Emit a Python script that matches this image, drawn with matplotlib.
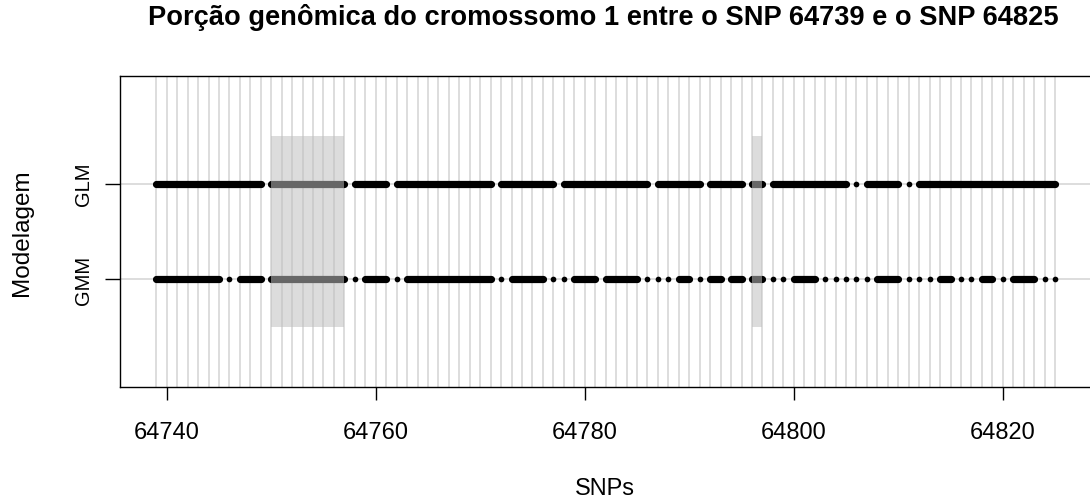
import matplotlib
matplotlib.use("Agg")
import matplotlib.pyplot as plt
from matplotlib.patches import Rectangle

plt.rcParams['font.family'] = ['Liberation Sans', 'DejaVu Sans']

# ---- data ----
snp_first = 64739
snp_last = 64825
models = ["GMM", "GLM"]
model_pos = [1, 2]

# consecutive-SNP blocks (start, end) per model
glm_blocks = [(64739, 64749), (64750, 64757), (64758, 64761), (64762, 64771),
              (64772, 64777), (64778, 64786), (64787, 64791), (64792, 64795),
              (64796, 64797), (64798, 64805), (64806, 64806), (64807, 64810),
              (64811, 64811), (64812, 64825)]
gmm_blocks = [(64739, 64745), (64746, 64746), (64747, 64749), (64750, 64757),
              (64758, 64758), (64759, 64761), (64762, 64762), (64763, 64771),
              (64772, 64772), (64773, 64776), (64777, 64777), (64778, 64778),
              (64779, 64781), (64782, 64785), (64786, 64786), (64787, 64787),
              (64788, 64788), (64789, 64790), (64791, 64791), (64792, 64793),
              (64794, 64795), (64796, 64797), (64798, 64798), (64799, 64799),
              (64800, 64802), (64803, 64803), (64804, 64804), (64805, 64805),
              (64806, 64806), (64807, 64807), (64808, 64810), (64811, 64811),
              (64812, 64812), (64813, 64813), (64814, 64815), (64816, 64816),
              (64817, 64817), (64818, 64819), (64820, 64820), (64821, 64823),
              (64824, 64824), (64825, 64825)]
highlight = [(64750, 64757), (64796, 64797)]
highlight_y = (0.5, 2.5)
x_ticks = [64740, 64760, 64780, 64800, 64820]

title = "Porção genômica do cromossomo 1 entre o SNP 64739 e o SNP 64825"
xlabel = "SNPs"
ylabel = "Modelagem"

# ---- figure ----
W, H = 1090, 502
fig = plt.figure(figsize=(W / 100, H / 100), dpi=100)
ax = fig.add_axes([120.3 / W, 114 / H, (1091 - 120.3) / W, 311 / H])

span = snp_last - snp_first
ax.set_xlim(snp_first - 0.04 * span, snp_last + 0.04 * span)
ax.set_ylim(-0.12, 3.12)

grid_col = "#D3D3D3"
for s in range(snp_first, snp_last + 1):
    ax.axvline(s, color=grid_col, lw=1.1, zorder=1)
for yv in model_pos:
    ax.axhline(yv, color=grid_col, lw=1.1, zorder=1)

for yv, blocks in zip(model_pos, [gmm_blocks, glm_blocks]):
    for a, b in blocks:
        xs = list(range(a, b + 1))
        ax.plot(xs, [yv] * len(xs), color="black", lw=5.2, marker="o",
                ms=4.1, mew=0, solid_capstyle="round", zorder=3)

for a, b in highlight:
    ax.add_patch(Rectangle((a, highlight_y[0]), b - a, highlight_y[1] - highlight_y[0],
                           facecolor=(0.75, 0.75, 0.75), alpha=0.54,
                           edgecolor="none", zorder=4))

for sp in ax.spines.values():
    sp.set_linewidth(1.0)

ax.set_xticks(x_ticks)
ax.set_xticklabels([str(t) for t in x_ticks], fontsize=17)
ax.tick_params(axis="x", length=9.5, width=1.0, pad=15)
ax.set_yticks(model_pos)
ax.set_yticklabels(models, fontsize=14.5, rotation=90, va="center")
ax.tick_params(axis="y", length=10.5, width=1.0, pad=9)

fig.text(603 / W, 1 - 25 / H, title, fontsize=19.6, fontweight="bold",
         ha="center", va="baseline")
fig.text(605 / W, 7 / H, xlabel, fontsize=17, ha="center", va="baseline")
fig.text(22 / W, (114 + 311 / 2) / H, ylabel, fontsize=17.5, rotation=90,
         ha="center", va="center")

fig.savefig("out.png", dpi=100)
